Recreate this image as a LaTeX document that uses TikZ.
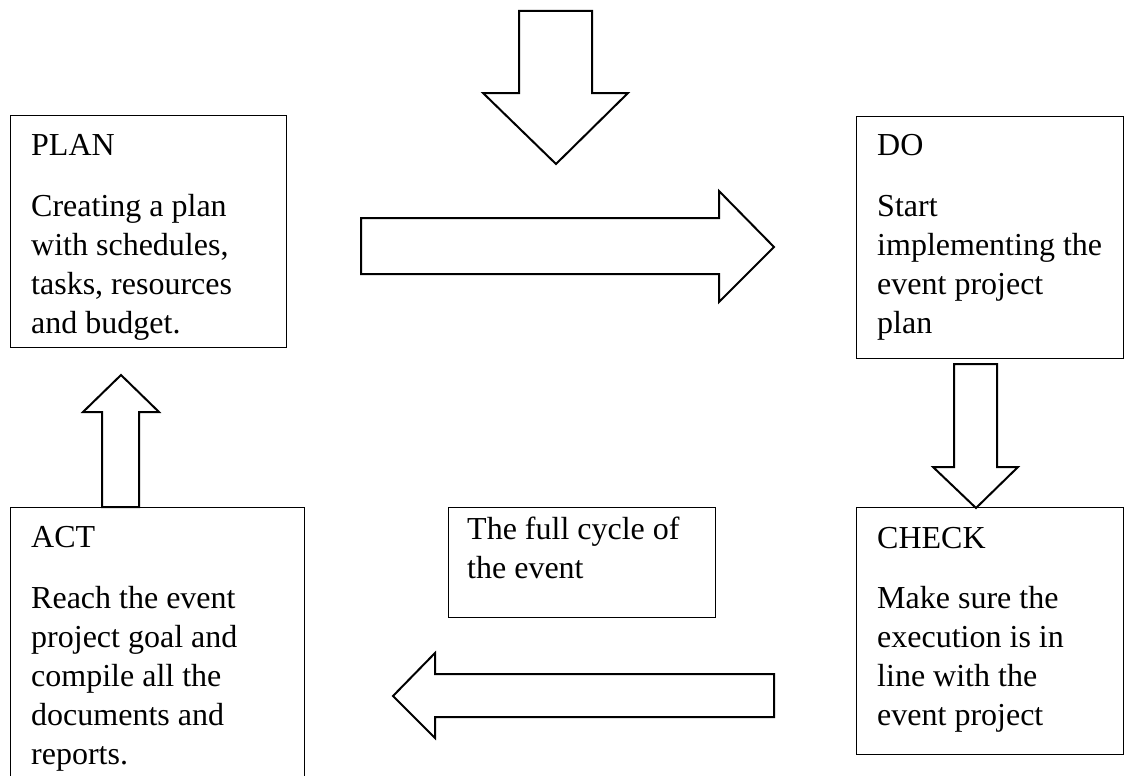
\documentclass[tikz,border=0pt]{standalone}
\usepackage{fontspec}
\setmainfont{Liberation Serif}
\begin{document}
\begin{tikzpicture}[x=1pt,y=-1pt,
  box/.style={draw,line width=1pt,inner sep=0pt,outer sep=0pt,anchor=north west},
  blockarrow/.style={draw,line width=2pt,line join=miter,fill=white},
  txt/.style={anchor=base west,inner sep=0pt,align=left,font=\fontsize{32}{39}\selectfont}]
\useasboundingbox[fill=white] (0,0) rectangle (1124,776);
% boxes
\node[box,minimum width=276,minimum height=232] (plan) at (10,115) {};
\node[box,minimum width=267,minimum height=242] (do) at (856,116) {};
\node[box,minimum width=294,minimum height=300] (act) at (10,507) {};
\node[box,minimum width=267,minimum height=247] (check) at (856,507) {};
\node[box,minimum width=267,minimum height=110] (cycle) at (448,507) {};
% texts (multi-line nodes: base = baseline of last line)
\node[txt] (planT) at (31,155) {PLAN};
\node[txt] (planB) at (31,333) {Creating a plan\\with schedules,\\tasks, resources\\and budget.};
\node[txt] (doT) at (877,155) {DO};
\node[txt] (doB) at (877,333) {Start\\implementing the\\event project\\plan};
\node[txt] (actT) at (31,547) {ACT};
\node[txt] (actB) at (31,764) {Reach the event\\project goal and\\compile all the\\documents and\\reports.};
\node[txt] (checkT) at (877,548) {CHECK};
\node[txt] (checkB) at (877,725) {Make sure the\\execution is in\\line with the\\event project};
\node[txt] (cycleT) at (467,578) {The full cycle of\\the event};
% block arrows
\draw[blockarrow] (519,11) -- (592,11) -- (592,93) -- (628,93) -- (556,164) -- (483,93) -- (519,93) -- cycle;
\draw[blockarrow] (361,218) -- (719,218) -- (719,191) -- (774,247) -- (719,302) -- (719,274) -- (361,274) -- cycle;
\draw[blockarrow] (954,364) -- (997,364) -- (997,467) -- (1018,467) -- (976,508) -- (933,467) -- (954,467) -- cycle;
\draw[blockarrow] (102,507) -- (139,507) -- (139,412) -- (159,412) -- (121,375) -- (83,412) -- (102,412) -- cycle;
\draw[blockarrow] (774,674) -- (435,674) -- (435,653) -- (393,696) -- (435,738) -- (435,717) -- (774,717) -- cycle;
\end{tikzpicture}
\end{document}
